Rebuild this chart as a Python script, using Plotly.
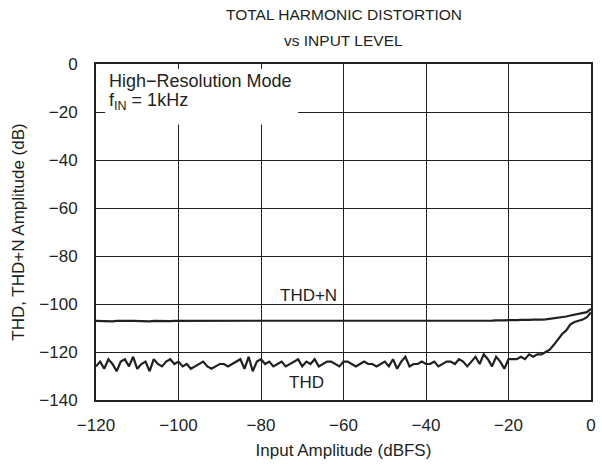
import plotly.graph_objects as go

x_dbfs = list(range(-120, 1))

thd_n = [
    -107.0, -107.1, -106.9, -107.0, -107.2, -107.0, -106.9, -107.1, -107.0, -107.0,
    -107.1, -106.9, -107.0, -107.2, -107.0, -107.1, -106.9, -107.0, -107.1, -107.0,
    -107.0, -107.1, -107.2, -107.0, -106.9, -107.0, -107.1, -107.0, -106.9, -107.1,
    -107.0, -107.1, -107.0, -107.2, -107.0, -106.9, -107.0, -107.1, -107.0, -107.0,
    -107.1, -106.9, -107.0, -107.1, -107.0, -107.0, -106.9, -107.1, -107.0, -107.0,
    -106.9, -107.1, -107.0, -107.0, -106.9, -107.0, -107.1, -106.9, -107.0, -107.0,
    -107.0, -106.9, -107.0, -107.1, -106.9, -107.0, -107.0, -106.9, -107.0, -107.0,
    -106.9, -107.0, -107.0, -106.9, -107.0, -107.0, -106.9, -107.0, -106.9, -107.0,
    -107.0, -106.9, -107.0, -106.9, -107.0, -106.9, -107.0, -106.9, -107.0, -106.9,
    -106.9, -107.0, -106.9, -106.9, -107.0, -106.9, -106.9, -106.8, -106.9, -106.8,
    -106.7, -106.8, -106.7, -106.6, -106.7, -106.6, -106.5, -106.6, -106.5, -106.4,
    -106.2, -106.0, -105.9, -105.6, -105.2, -104.8, -104.4, -104.1, -103.9, -103.4,
    -102.0,
]

thd = [
    -126, -124, -127, -123, -125, -128, -124, -123, -126, -122,
    -127, -125, -124, -128, -123, -125, -126, -124, -123, -125,
    -124, -126, -125, -127, -126, -125, -124, -126, -127, -126,
    -125, -125, -126, -125, -124, -123, -127, -122, -128, -124,
    -123, -125, -124, -126, -125, -124, -126, -125, -124, -123,
    -126, -124, -125, -123, -126, -125, -124, -124, -125, -126,
    -124, -124, -125, -126, -125, -124, -125, -125, -126, -125,
    -124, -126, -123, -127, -124, -122, -126, -125, -125, -124,
    -125, -125, -124, -126, -125, -124, -124, -125, -123, -124,
    -126, -124, -122, -125, -121, -123, -126, -122, -124, -127,
    -123, -123, -123, -122, -123, -121, -122, -121, -121, -120,
    -119, -117, -114.5, -112.5, -111, -108.5, -107.5, -107, -106.5, -105.5,
    -103.5,
]

x_ticks = [-120, -100, -80, -60, -40, -20, 0]
y_ticks = [0, -20, -40, -60, -80, -100, -120, -140]

INK = "#231f20"
FONT = "Liberation Sans, Arial, sans-serif"
FS = 17

W, H = 602, 466
ML, MR, MT, MB = 96, 6, 64, 66
PH = H - MT - MB

fig = go.Figure()
fig.add_trace(go.Scatter(x=x_dbfs, y=thd_n, mode="lines",
                         line=dict(color=INK, width=2.2), name="THD+N"))
fig.add_trace(go.Scatter(x=x_dbfs, y=thd, mode="lines",
                         line=dict(color=INK, width=2.2), name="THD"))

# white box behind the condition text
fig.add_shape(type="rect", xref="x", yref="y", x0=-117.8, x1=-71, y0=-2.0, y1=-25.2,
              fillcolor="white", line=dict(width=0), layer="between")

fig.add_annotation(x=-117.3, y=-7.1, xref="x", yref="y", text="High\u2212Resolution Mode",
                   showarrow=False, xanchor="left", yanchor="middle",
                   font=dict(size=18, color=INK, family=FONT))
fig.add_annotation(x=-117.3, y=-15.6, xref="x", yref="y", text="f<sub>IN</sub> = 1kHz",
                   showarrow=False, xanchor="left", yanchor="middle",
                   font=dict(size=18, color=INK, family=FONT))
fig.add_annotation(x=-68.6, y=-96.3, xref="x", yref="y", text="THD+N",
                   showarrow=False, font=dict(size=FS, color=INK, family=FONT))
fig.add_annotation(x=-69, y=-132.6, xref="x", yref="y", text="THD",
                   showarrow=False, font=dict(size=FS, color=INK, family=FONT))

# two-line title
cx = (ML + (W - MR)) / 2
for txt, ypix in [("TOTAL HARMONIC DISTORTION", 14), ("vs INPUT LEVEL", 40)]:
    fig.add_annotation(x=(cx - ML) / (W - ML - MR), y=(H - MB - ypix) / PH,
                       xref="paper", yref="paper", text=txt, showarrow=False,
                       xanchor="center", yanchor="middle",
                       font=dict(size=15.5, color=INK, family=FONT))

fig.update_layout(
    width=W, height=H,
    margin=dict(l=ML, r=MR, t=MT, b=MB),
    paper_bgcolor="white", plot_bgcolor="white",
    showlegend=False,
    font=dict(family=FONT, size=FS, color=INK),
)
fig.update_xaxes(range=[-120, 0], tickvals=x_ticks,
                 ticktext=[str(v).replace("-", "\u2212") for v in x_ticks],
                 showgrid=True, gridcolor=INK, gridwidth=1.3,
                 showline=True, linecolor=INK, linewidth=2, mirror=True,
                 ticks="", zeroline=False, ticklabelstandoff=9,
                 tickfont=dict(size=FS, color=INK, family=FONT),
                 title=dict(text="Input Amplitude (dBFS)", standoff=10,
                            font=dict(size=FS, color=INK, family=FONT)))
fig.update_yaxes(range=[-140, 0], tickvals=y_ticks,
                 ticktext=[str(v).replace("-", "\u2212") for v in y_ticks],
                 showgrid=True, gridcolor=INK, gridwidth=1.3,
                 showline=True, linecolor=INK, linewidth=2, mirror=True,
                 ticks="", zeroline=False, ticklabelstandoff=13,
                 tickfont=dict(size=FS, color=INK, family=FONT),
                 title=dict(text="THD, THD+N Amplitude (dB)", standoff=10,
                            font=dict(size=FS, color=INK, family=FONT)))

fig.write_html("out.html")
